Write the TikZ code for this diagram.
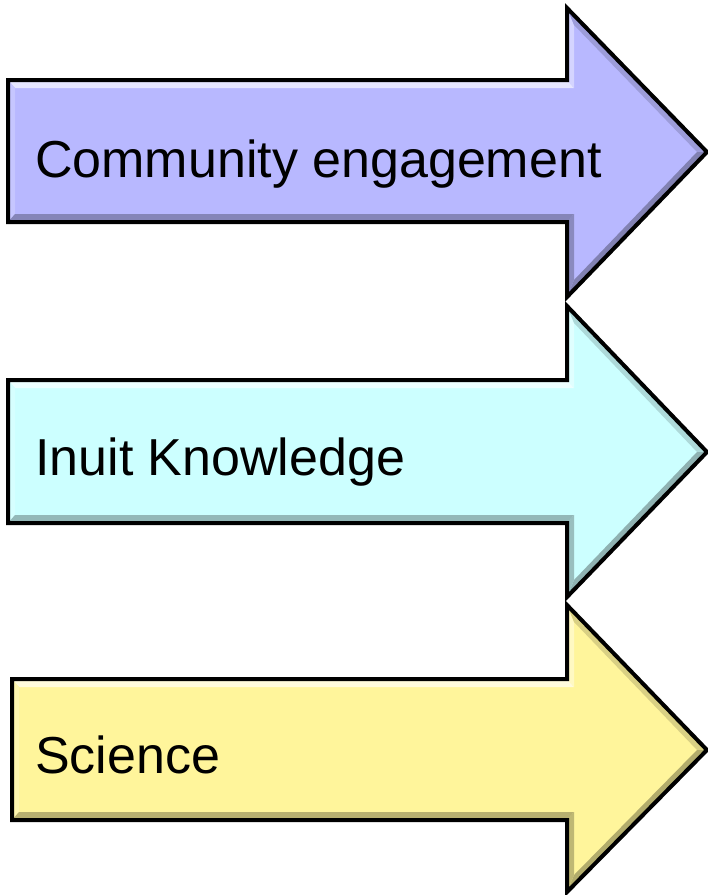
\documentclass[tikz,border=0pt]{standalone}
\usepackage{fontspec}
\setmainfont{Liberation Sans}
\definecolor{lav}{RGB}{184,184,255}
\definecolor{cya}{RGB}{204,255,255}
\definecolor{yel}{RGB}{255,245,155}
\tikzset{
  lbl/.style={anchor=base west, inner sep=0pt, font=\fontsize{52}{60}\selectfont, text=black},
  outline/.style={draw=black, line width=4pt, line join=miter}
}
% #1 L, #2 head top, #3 body top, #4 body bottom, #5 head bottom, #6 centre y, #7 colour
\newcommand\bevarrow[7]{%
  \fill[#7] (#1,#3) -- (567,#3) -- (567,#2) -- (707,#6) -- (567,#5) -- (567,#4) -- (#1,#4) -- cycle;
  % top strip
  \fill[#7!35!white] (#1,#3) -- (567,#3) -- (574,{#3+8}) -- ({#1+7},{#3+8}) -- cycle;
  % left strip
  \fill[#7!80!white] (#1,#3) -- ({#1+7},{#3+8}) -- ({#1+7},{#4-8}) -- (#1,#4) -- cycle;
  % upper vertical of head
  \fill[#7!60!white] (567,#3) -- (567,#2) -- (574,{#2+17}) -- (574,{#3+8}) -- cycle;
  % head top diagonal
  \fill[#7!85!black] (567,#2) -- (707,#6) -- (697,#6) -- (574,{#2+17}) -- cycle;
  % head bottom diagonal
  \fill[#7!70!black] (707,#6) -- (567,#5) -- (574,{#5-17}) -- (697,#6) -- cycle;
  % lower vertical of head
  \fill[#7!75!black] (567,#5) -- (567,#4) -- (574,{#4-8}) -- (574,{#5-17}) -- cycle;
  % bottom strip
  \fill[#7!72!black] (567,#4) -- (#1,#4) -- ({#1+7},{#4-8}) -- (574,{#4-8}) -- cycle;
  \draw[outline] (#1,#3) -- (567,#3) -- (567,#2) -- (707,#6) -- (567,#5) -- (567,#4) -- (#1,#4) -- cycle;
}
\begin{document}
\begin{tikzpicture}[x=1pt,y=-1pt]
  \useasboundingbox (0,0) rectangle (708,895);
  \fill[white] (0,0) rectangle (708,895);
  \bevarrow{8}{8}{80}{222}{297}{152}{lav}
  \bevarrow{8}{306}{380}{523}{597}{452}{cya}
  \bevarrow{12}{605}{679}{820}{892}{750}{yel}
  \node[lbl] (t1) at (35,177) {Community engagement};
  \node[lbl] (t2) at (35,475) {Inuit Knowledge};
  \node[lbl] (t3) at (35,773) {Science};
\end{tikzpicture}
\end{document}
